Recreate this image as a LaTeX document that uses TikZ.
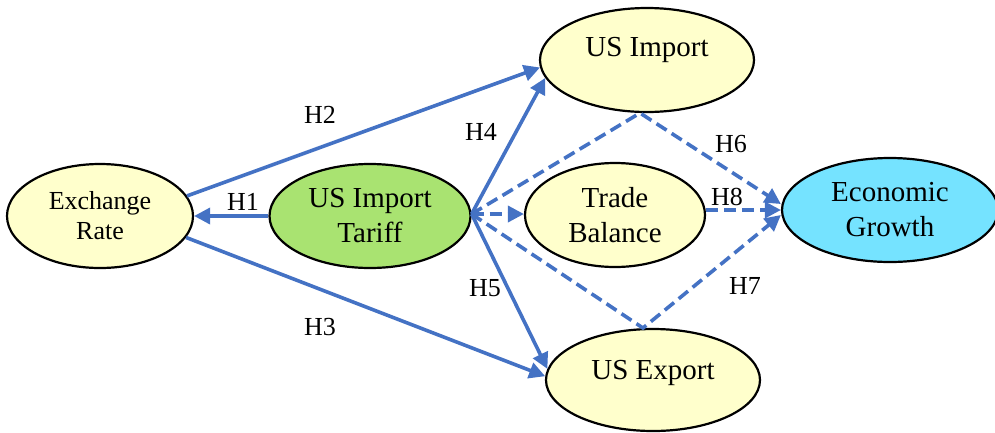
\documentclass[tikz,border=0pt]{standalone}
\usepackage{fontspec}
\setmainfont{Liberation Serif}
\usetikzlibrary{arrows.meta,shapes.geometric}
\definecolor{lnblue}{HTML}{4472C4}
\definecolor{yel}{HTML}{FFFFCC}
\definecolor{grn}{HTML}{A9E371}
\definecolor{cyn}{HTML}{75E3FF}
\begin{document}
\begin{tikzpicture}[x=1pt,y=-1pt,
 ell/.style={ellipse,draw=black,line width=2.2pt,inner sep=0pt},
 txt/.style={font=\fontsize{29}{35}\selectfont,align=center,inner sep=0pt},
 lab/.style={font=\fontsize{26}{30}\selectfont,inner sep=0pt},
 sol/.style={draw=lnblue,line width=3.6pt,-{Triangle[length=16pt,width=16pt]}},
 dsh/.style={draw=lnblue,line width=3.6pt,dash pattern=on 12pt off 6pt,line join=miter,-{Triangle[length=16pt,width=16pt]}}]
\useasboundingbox (0,0) rectangle (995,432);
% ellipses
\node[ell,fill=yel,minimum width=186pt,minimum height=104pt,txt,font=\fontsize{26}{30}\selectfont] (er) at (100,216) {Exchange\\Rate};
\node[ell,fill=grn,minimum width=201pt,minimum height=104pt,txt] (tar) at (370,216) {US Import\\Tariff};
\node[ell,fill=yel,minimum width=180pt,minimum height=104pt,txt] (tb) at (615,215) {Trade\\Balance};
\node[ell,fill=yel,minimum width=214pt,minimum height=104pt] (imp) at (647,60) {};
\node[txt] (impt) at (647,50) {US Import};
\node[ell,fill=yel,minimum width=214pt,minimum height=102pt] (exp) at (653,380) {};
\node[txt] (expt) at (653,373) {US Export};
\node[ell,fill=cyn,minimum width=216pt,minimum height=104pt,txt] (eg) at (890,210) {Economic\\Growth};
% apex points of dashed paths
\coordinate (ua) at (640,113);
\coordinate (la) at (643,328);
\coordinate (ts) at ([yshift=2pt]tar.east);
% solid connectors
\draw[sol] (tar.west) -- (er.east);
\draw[sol] (er.13) -- (imp.184);
\draw[sol] (er.-14) -- (exp.178);
\draw[sol] (ts) -- (imp.190);
\draw[sol] (ts) -- (exp.174);
% dashed connectors
\draw[dsh] (ts) -- (ts -| tb.west);
\draw[dsh] (ts) -- (ua) -- ([yshift=6pt]eg.west);
\draw[dsh] (ts) -- (la) -- ([yshift=-5pt]eg.west);
\draw[dsh] (tb.east |- eg.west) -- (eg.west);
% labels
\node[lab] (h1) at (243,202) {H1};
\node[lab] (h2) at (320,115) {H2};
\node[lab] (h3) at (320,327) {H3};
\node[lab] (h4) at (481,132) {H4};
\node[lab] (h5) at (485,288) {H5};
\node[lab] (h6) at (731,144) {H6};
\node[lab] (h8) at (727,197) {H8};
\node[lab] (h7) at (745,286) {H7};
\end{tikzpicture}
\end{document}
